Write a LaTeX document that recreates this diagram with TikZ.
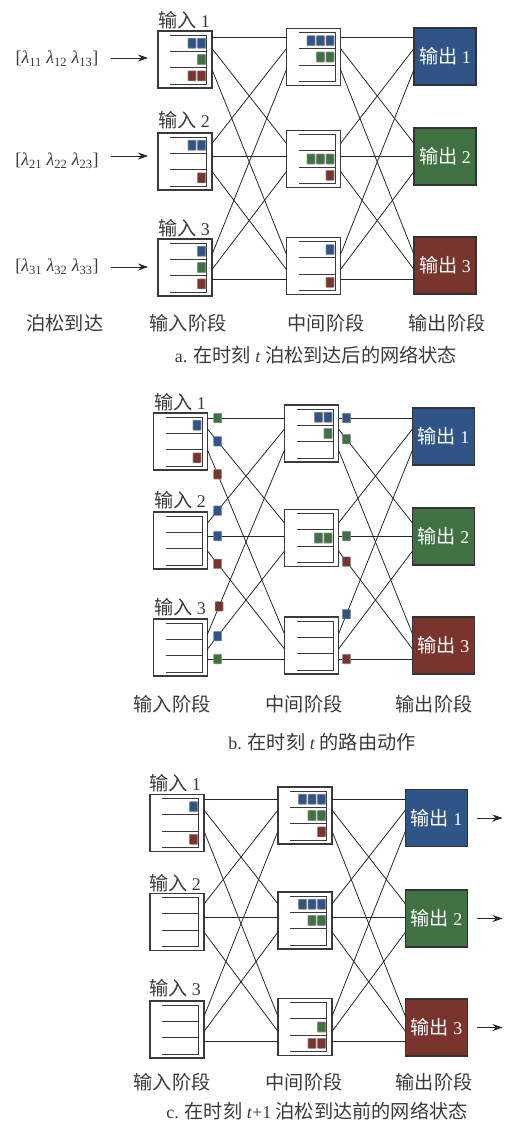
\documentclass[tikz,border=0pt]{standalone}
\usepackage{fontspec}
\setmainfont{Liberation Serif}
\newfontfamily\cjk[Scale=1.07]{Noto Sans CJK SC}
\usetikzlibrary{arrows.meta,calc}
\definecolor{pblue}{HTML}{2F5488}
\definecolor{pgreen}{HTML}{3F7143}
\definecolor{pred}{HTML}{7A342E}
\definecolor{ink}{HTML}{3A3A3A}
\newcommand\zh[1]{{\cjk #1}}
\newcommand\lam[1]{\textit{λ}\textsubscript{#1}}
\tikzset{
  qbox/.style={draw=ink, line width=1.1pt, fill=white, minimum width=54bp, minimum height=57bp, inner sep=0pt, outer sep=0pt},
  obox/.style={draw=black!80, line width=1.1pt, minimum width=62bp, minimum height=57bp, inner sep=0pt, outer sep=0pt, text=white},
  qline/.style={draw=ink, line width=0.9pt},
  link/.style={draw=black!85, line width=0.8pt},
  pkt/.style={draw=black!45, line width=0.6pt, rounded corners=0.6bp},
  lab/.style={text=ink, inner sep=0pt},
  arr/.style={draw=black!85, line width=0.9pt, -{Stealth[length=10bp,width=7bp]}}
}
% inner queue lines of a box
\newcommand\qlines[1]{%
  \draw[qline] ([shift={(-15,-24.5)}]#1.center) -- ([shift={(21.5,-24.5)}]#1.center) -- ([shift={(21.5,24.5)}]#1.center) -- ([shift={(-15,24.5)}]#1.center);
  \draw[qline] ([shift={(-15,-8.2)}]#1.center) -- ([shift={(21.5,-8.2)}]#1.center);
  \draw[qline] ([shift={(-15,8.2)}]#1.center) -- ([shift={(21.5,8.2)}]#1.center);}
% packet in queue: box, slot, position from right, colour
\newcommand\qp[4]{\filldraw[pkt,fill=#4] ([shift={({12.5-9.5*#3},{16.3*#2-37.6})}]#1.center) rectangle ++(8,10);}
% packet on a link
\newcommand\lp[4]{\filldraw[pkt,fill=#4] ($(#1)!#3!(#2)+(-4,-4.75)$) rectangle ++(8,9.5);}
% full-mesh links between two columns
\newcommand\links[5]{%
  \foreach \r/\s/\oa/\ob in {1/1/-22/-22,1/2/-11/-18,1/3/10/-13,2/1/-18/-11,2/2/-5/-5,2/3/10/2,3/1/-13/10,3/2/2/10,3/3/12/12}{%
    \pgfmathsetmacro\ya{{#3,#4,#5}[\r-1]+(\oa)}%
    \pgfmathsetmacro\yb{{#3,#4,#5}[\s-1]+(\ob)}%
    \coordinate (#1\r e\s) at (#1\r.east |- 0,\ya);
    \coordinate (#2\s w\r) at (#2\s.west |- 0,\yb);
    \draw[link] (#1\r e\s) -- (#2\s w\r);
  }}
\begin{document}
\begin{tikzpicture}[x=1bp,y=-1bp,font=\fontsize{18}{21}\selectfont]
\useasboundingbox (0,0) rectangle (510,1124);

% ================= panel a =================
\foreach \r/\yi/\ym/\yo/\c in {1/59.5/57/56.5/pblue,2/161.5/159/156.5/pgreen,3/267.5/266/265.5/pred}{
  \node[qbox] (a-in\r) at (185,\yi) {};
  \node[qbox] (a-mid\r) at (313.5,\ym) {};
  \node[obox,fill=\c] (a-out\r) at (445,\yo) {\zh{输出} \r};
  \qlines{a-in\r}
  \qlines{a-mid\r}
}
\links{a-in}{a-mid}{59.5}{161.5}{267.5}
\links{a-mid}{a-out}{59.5}{161.5}{267.5}
\qp{a-in1}{1}{0}{pblue}\qp{a-in1}{1}{1}{pblue}\qp{a-in1}{2}{0}{pgreen}\qp{a-in1}{3}{0}{pred}\qp{a-in1}{3}{1}{pred}
\qp{a-in2}{1}{0}{pblue}\qp{a-in2}{1}{1}{pblue}\qp{a-in2}{3}{0}{pred}
\qp{a-in3}{1}{0}{pblue}\qp{a-in3}{2}{0}{pgreen}\qp{a-in3}{3}{0}{pred}
\qp{a-mid1}{1}{0}{pblue}\qp{a-mid1}{1}{1}{pblue}\qp{a-mid1}{1}{2}{pblue}\qp{a-mid1}{2}{0}{pgreen}\qp{a-mid1}{2}{1}{pgreen}
\qp{a-mid2}{2}{0}{pgreen}\qp{a-mid2}{2}{1}{pgreen}\qp{a-mid2}{2}{2}{pgreen}\qp{a-mid2}{3}{0}{pred}
\qp{a-mid3}{1}{0}{pblue}\qp{a-mid3}{3}{0}{pred}

\node[lab] (a-lin1) at (184,20) {\zh{输入} 1};
\node[lab] (a-lin2) at (184,120) {\zh{输入} 2};
\node[lab] (a-lin3) at (184,228) {\zh{输入} 3};
\node[lab] (a-lam1) at (57,58.5) {[\lam{11} \lam{12} \lam{13}]};
\node[lab] (a-lam2) at (57,161) {[\lam{21} \lam{22} \lam{23}]};
\node[lab] (a-lam3) at (57,267) {[\lam{31} \lam{32} \lam{33}]};
\coordinate (a-as1) at (111,58);
\coordinate (a-as2) at (111,156);
\coordinate (a-as3) at (111,267);
\draw[arr,shorten >=10bp] (a-as1) -- (a-in1.west |- a-as1);
\draw[arr,shorten >=10bp] (a-as2) -- (a-in2.west |- a-as2);
\draw[arr,shorten >=10bp] (a-as3) -- (a-in3.west |- a-as3);
\node[lab] (a-st0) at (65,323) {\zh{泊松到达}};
\node[lab] (a-st1) at (188,323) {\zh{输入阶段}};
\node[lab] (a-st2) at (326,323) {\zh{中间阶段}};
\node[lab] (a-st3) at (447,323) {\zh{输出阶段}};
\node[lab] (a-cap) at (316,355) {a. \zh{在时刻} \textit{t} \zh{泊松到达后的网络状态}};

% ================= panel b =================
\foreach \r/\yi/\ym/\yo/\c in {1/441.5/433.5/436.5/pblue,2/540.5/538/536.5/pgreen,3/647.5/645.5/645.5/pred}{
  \node[qbox] (b-in\r) at (180.5,\yi) {};
  \node[qbox] (b-mid\r) at (311.5,\ym) {};
  \node[obox,fill=\c] (b-out\r) at (443.5,\yo) {\zh{输出} \r};
  \qlines{b-in\r}
  \qlines{b-mid\r}
}
\links{b-in}{b-mid}{440}{541}{647}
\links{b-mid}{b-out}{440}{541}{647}
\qp{b-in1}{1}{0}{pblue}\qp{b-in1}{3}{0}{pred}
\qp{b-mid1}{1}{0}{pblue}\qp{b-mid1}{1}{1}{pblue}\qp{b-mid1}{2}{0}{pgreen}
\qp{b-mid2}{2}{0}{pgreen}\qp{b-mid2}{2}{1}{pgreen}
\lp{b-in1e1}{b-mid1w1}{0.132}{pgreen}
\lp{b-in1e2}{b-mid2w1}{0.132}{pblue}
\lp{b-in1e3}{b-mid3w1}{0.132}{pred}
\lp{b-in2e1}{b-mid1w2}{0.132}{pblue}
\lp{b-in2e2}{b-mid2w2}{0.132}{pblue}
\lp{b-in2e3}{b-mid3w2}{0.132}{pred}
\lp{b-in3e1}{b-mid1w3}{0.15}{pred}
\lp{b-in3e2}{b-mid2w3}{0.132}{pblue}
\lp{b-in3e3}{b-mid3w3}{0.132}{pgreen}
\lp{b-mid1e1}{b-out1w1}{0.108}{pblue}
\lp{b-mid1e2}{b-out2w1}{0.108}{pgreen}
\lp{b-mid2e2}{b-out2w2}{0.108}{pgreen}
\lp{b-mid2e3}{b-out3w2}{0.108}{pred}
\lp{b-mid3e1}{b-out1w3}{0.108}{pblue}
\lp{b-mid3e3}{b-out3w3}{0.108}{pred}
\node[lab] (b-lin1) at (180,402) {\zh{输入} 1};
\node[lab] (b-lin2) at (180,500) {\zh{输入} 2};
\node[lab] (b-lin3) at (180,607) {\zh{输入} 3};
\node[lab] (b-st1) at (172,704) {\zh{输入阶段}};
\node[lab] (b-st2) at (304,704) {\zh{中间阶段}};
\node[lab] (b-st3) at (434,704) {\zh{输出阶段}};
\node[lab] (b-cap) at (322,742) {b. \zh{在时刻} \textit{t} \zh{的路由动作}};

% ================= panel c =================
\foreach \r/\yi/\ym/\yo/\c in {1/823/815.5/818/pblue,2/922/920.5/918.5/pgreen,3/1029.5/1027/1027.5/pred}{
  \node[qbox] (c-in\r) at (177,\yi) {};
  \node[qbox] (c-mid\r) at (305,\ym) {};
  \node[obox,fill=\c] (c-out\r) at (436.5,\yo) {\zh{输出} \r};
  \qlines{c-in\r}
  \qlines{c-mid\r}
  \draw[arr,shorten <=9bp] (c-out\r.east) -- ++(35,0) coordinate (c-ae\r);
}
\links{c-in}{c-mid}{821}{922}{1029.5}
\links{c-mid}{c-out}{821}{922}{1029.5}
\qp{c-in1}{1}{0}{pblue}\qp{c-in1}{3}{0}{pred}
\qp{c-mid1}{1}{0}{pblue}\qp{c-mid1}{1}{1}{pblue}\qp{c-mid1}{1}{2}{pblue}\qp{c-mid1}{2}{0}{pgreen}\qp{c-mid1}{2}{1}{pgreen}\qp{c-mid1}{3}{0}{pred}
\qp{c-mid2}{1}{0}{pblue}\qp{c-mid2}{1}{1}{pblue}\qp{c-mid2}{1}{2}{pblue}\qp{c-mid2}{2}{0}{pgreen}\qp{c-mid2}{2}{1}{pgreen}
\qp{c-mid3}{2}{0}{pgreen}\qp{c-mid3}{3}{0}{pred}\qp{c-mid3}{3}{1}{pred}
\node[lab] (c-lin1) at (175,783) {\zh{输入} 1};
\node[lab] (c-lin2) at (175,883) {\zh{输入} 2};
\node[lab] (c-lin3) at (175,988) {\zh{输入} 3};
\node[lab] (c-st1) at (172,1082) {\zh{输入阶段}};
\node[lab] (c-st2) at (304,1082) {\zh{中间阶段}};
\node[lab] (c-st3) at (434,1082) {\zh{输出阶段}};
\node[lab] (c-cap) at (317,1111) {c. \zh{在时刻} \textit{t}+1 \zh{泊松到达前的网络状态}};
\end{tikzpicture}
\end{document}
